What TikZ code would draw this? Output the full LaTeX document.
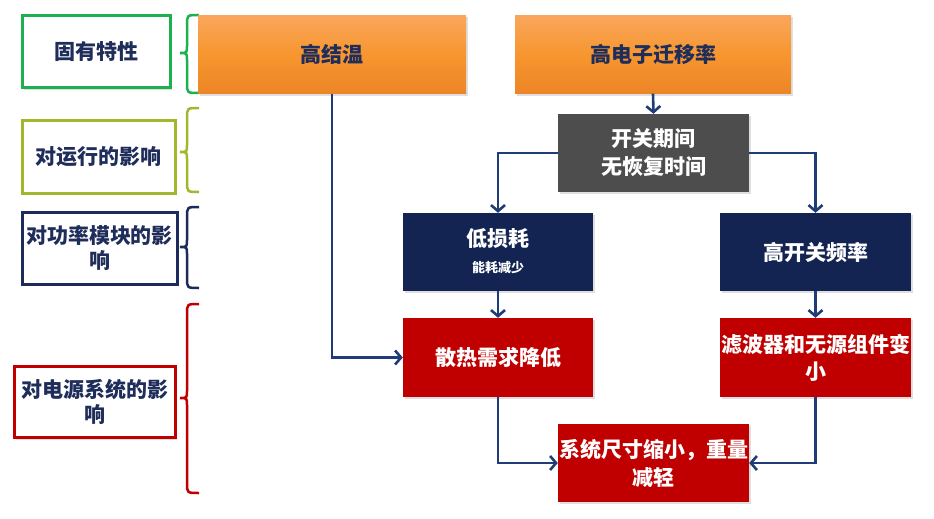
\documentclass[tikz,border=0pt]{standalone}
\usepackage{fontspec}
\newfontfamily\cjk{Noto Sans CJK SC}
\usetikzlibrary{arrows.meta,shadows}
\definecolor{navytxt}{HTML}{1F2D5A}
\definecolor{lgreen}{HTML}{1DB04F}
\definecolor{lolive}{HTML}{A2B82C}
\definecolor{lnavy}{HTML}{1C2B5C}
\definecolor{lred}{HTML}{C00000}
\definecolor{boxnavy}{HTML}{132452}
\definecolor{boxred}{HTML}{C00000}
\definecolor{boxgray}{HTML}{4D4D4D}
\definecolor{ortop}{HTML}{F9A65C}
\definecolor{ormid}{HTML}{F7962F}
\definecolor{orbot}{HTML}{EC8526}
\definecolor{lineblue}{HTML}{1F3C78}
\begin{document}
\begin{tikzpicture}[x=1pt,y=-1pt,
  font=\cjk\bfseries\fontsize{21}{28}\selectfont,
  shade/.style={drop shadow={shadow xshift=1.5pt,shadow yshift=-2pt,opacity=0.25}},
  tag/.style={draw=#1, line width=3pt, fill=white, text=navytxt, align=center, inner sep=0pt, shade},
  box/.style={rectangle, inner sep=0pt, align=center, text=white, minimum width=191pt, minimum height=78pt, shade},
  orbox/.style={rectangle, inner sep=0pt, align=center, text=navytxt, minimum height=78pt, top color=ortop, bottom color=orbot, middle color=ormid, shade},
  conn/.style={draw=lineblue, line width=2.6pt, -{Straight Barb[length=6pt,width=14pt]}},
  brace/.style={line width=2.5pt, draw=#1}
]
\useasboundingbox (0,0) rectangle (934,519);

% left tags
\node[tag=lgreen, minimum width=148pt, minimum height=72pt] (fix) at (96,51.5) {固有特性};
\node[tag=lolive, minimum width=153pt, minimum height=73pt] (run) at (98.5,156.5) {对运行的影响};
\node[tag=lnavy, minimum width=155pt, minimum height=72pt, font=\cjk\bfseries\fontsize{21}{25}\selectfont] (mod) at (99.5,248) {对功率模块的影\\响};
\node[tag=lred, minimum width=161pt, minimum height=71pt, font=\cjk\bfseries\fontsize{21}{25}\selectfont] (pwr) at (95,402) {对电源系统的影\\响};

% braces
\newcommand{\bracepath}[4]{% color, top, bottom, mid
  \draw[brace=#1] (199,#2) .. controls (187,#2) and (187,#2) .. (187,#2+10) -- (187,#4-7)
     .. controls (187,#4) .. (180,#4) .. controls (187,#4) .. (187,#4+7) -- (187,#3-10)
     .. controls (187,#3) and (187,#3) .. (199,#3);}
\bracepath{lgreen}{15}{93}{53}
\bracepath{lolive}{108}{192}{152}
\bracepath{lnavy}{207}{288}{247}
\bracepath{lred}{304}{493}{398}

% main boxes
\node[orbox, minimum width=268pt] (hj) at (332,54.5) {高结温};
\node[orbox, minimum width=276pt] (hem) at (653,54.5) {高电子迁移率};
\node[box, fill=boxgray] (gap) at (653.5,153) {开关期间\\无恢复时间};
\node[box, fill=boxnavy, minimum width=190pt] (low) at (498,252) {\raisebox{4pt}{低损耗}\\[-2pt]{\fontsize{13}{16}\selectfont\raisebox{4pt}{能耗减少}}};
\node[box, fill=boxnavy] (hsf) at (815.5,252) {高开关频率};
\node[box, fill=boxred, minimum width=190pt, minimum height=79pt] (heat) at (498,357.5) {散热需求降低};
\node[box, fill=boxred, minimum height=79pt, font=\cjk\bfseries\fontsize{21}{27}\selectfont] (filt) at (815.5,357.5) {滤波器和无源组件变\\小};
\node[box, fill=boxred] (sys) at (653.5,463) {系统尺寸缩小，重量\\减轻};

% connectors
\draw[conn] (hem.south) -- (gap.north);
\draw[conn] (gap.west) -| (low.north);
\draw[conn] (gap.east) -| (hsf.north);
\draw[conn] (low.south) -- (heat.north);
\draw[conn] (hsf.south) -- (filt.north);
\draw[conn] (hj.south) |- (heat.west);
\draw[conn] (heat.south) |- (sys.west);
\draw[conn] (filt.south) |- (sys.east);
\end{tikzpicture}
\end{document}
